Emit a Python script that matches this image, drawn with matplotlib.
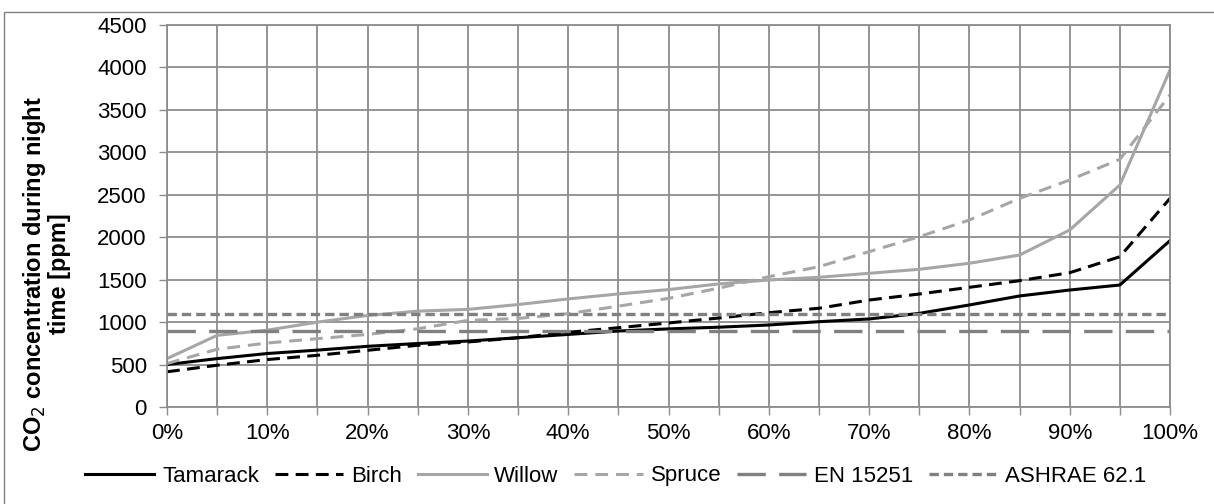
import matplotlib.pyplot as plt
import numpy as np
from matplotlib.patches import Rectangle
from matplotlib.ticker import FixedLocator, FuncFormatter

plt.rcParams['font.family'] = ['Liberation Sans', 'DejaVu Sans']

# share of nights (%) and CO2 concentrations (ppm)
share = np.arange(0, 101, 5)
tamarack = [500, 570, 630, 670, 715, 748, 777, 816, 855, 895, 920,
            940, 966, 1005, 1037, 1103, 1202, 1308, 1378, 1437, 1960]
birch = [415, 492, 559, 609, 668, 727, 766, 816, 880, 934, 990,
         1048, 1111, 1163, 1260, 1331, 1410, 1488, 1582, 1770, 2458]
willow = [570, 844, 905, 1000, 1078, 1129, 1150, 1207, 1273, 1332, 1383,
          1450, 1496, 1528, 1575, 1622, 1693, 1790, 2085, 2615, 3970]
spruce = [512, 680, 754, 805, 855, 922, 1020, 1043, 1100, 1188, 1280,
          1400, 1535, 1653, 1830, 2006, 2203, 2458, 2674, 2918, 3676]
en15251 = 900
ashrae = 1100

grid_c = '#8c8c8c'
light = '#a6a6a6'
dark = '#808080'
W, H = 1214, 504

fig = plt.figure(figsize=(W / 100, H / 100), dpi=100)
ax = fig.add_axes([167 / W, 1 - 407 / H, 1003 / W, 382 / H])

# outer chart frame (only top and left edges fall inside the image)
fig.patches.append(Rectangle((4 / W, -0.05), 1.2, 1 - 12 / H + 0.05,
                             transform=fig.transFigure, fill=False,
                             edgecolor=dark, linewidth=1.0))

ax.plot(share, tamarack, color='black', lw=2.2, label='Tamarack')
ax.plot(share, birch, color='black', lw=2.2, ls=(0, (4.2, 2.4)), label='Birch')
ax.plot(share, willow, color=light, lw=2.2, label='Willow')
ax.plot(share, spruce, color=light, lw=2.2, ls=(0, (4.2, 2.6)), label='Spruce')
ax.plot([0, 100], [en15251] * 2, color=dark, lw=2.4, ls=(0, (8.5, 4)),
        label='EN 15251')
ax.plot([0, 100], [ashrae] * 2, color=dark, lw=2.4, ls=(0, (2.8, 1.5)),
        label='ASHRAE 62.1')

ax.set_xlim(0, 100)
ax.set_ylim(0, 4500)
ax.xaxis.set_major_locator(FixedLocator(np.arange(0, 101, 10)))
ax.xaxis.set_minor_locator(FixedLocator(np.arange(5, 100, 10)))
ax.xaxis.set_major_formatter(FuncFormatter(lambda v, p: f'{v:.0f}%'))
ax.set_yticks(np.arange(0, 4501, 500))
ax.grid(True, which='both', color=grid_c, lw=1.3)
ax.set_axisbelow(True)
for s in ax.spines.values():
    s.set_color(grid_c)
    s.set_linewidth(1.3)
ax.tick_params(which='both', length=5.5, color=grid_c, width=1.0,
               labelsize=16)
ax.tick_params(axis='x', which='both', pad=6)
ax.tick_params(axis='y', pad=9)

fig.text(46 / W, 1 - 274 / H,
         'CO$_2$ concentration during night\ntime [ppm]',
         rotation=90, ha='center', va='center', multialignment='center',
         fontsize=17, fontweight='bold', linespacing=1.05)

fig.legend(loc='center', bbox_to_anchor=(616 / W, 1 - 476 / H), ncol=6,
           frameon=False, fontsize=16, handlelength=3.1, handletextpad=0.35,
           columnspacing=0.7, borderaxespad=0)

fig.savefig('out.png', dpi=100)
